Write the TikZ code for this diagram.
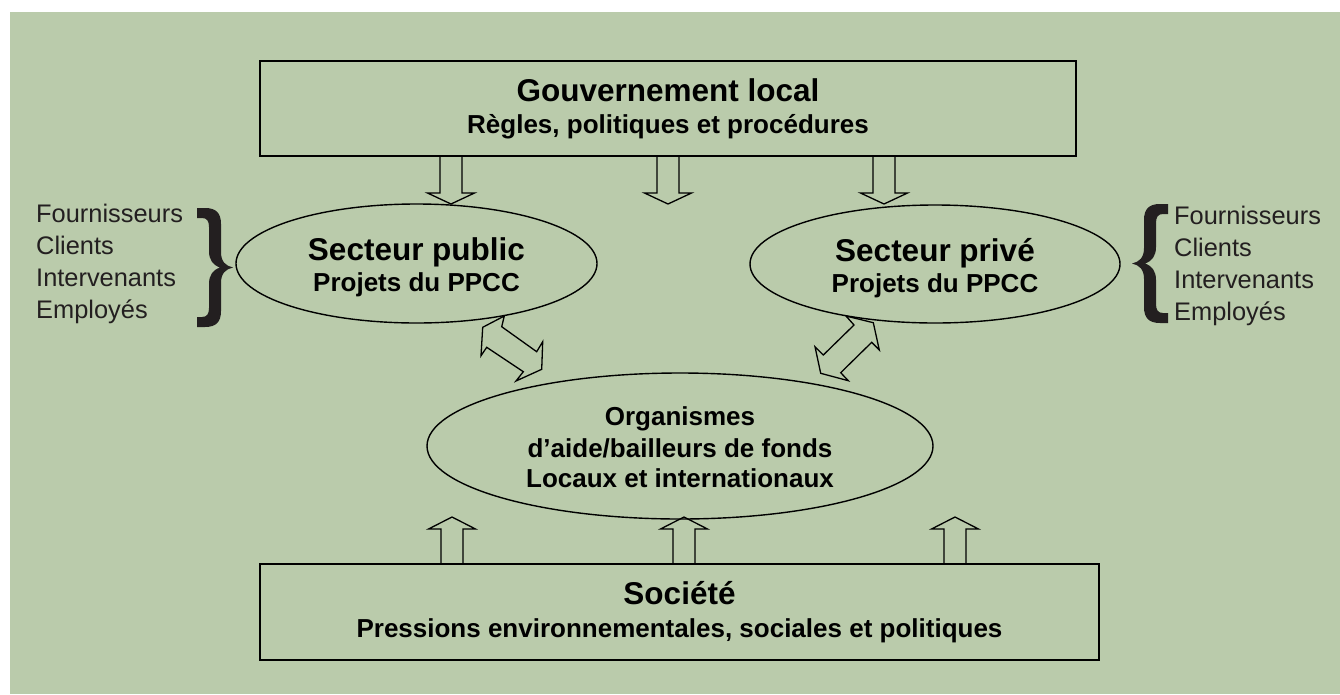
\documentclass[tikz,border=0pt]{standalone}
\usepackage{fontspec}
\setmainfont{Liberation Sans}
\usetikzlibrary{shapes.geometric}
\definecolor{sage}{RGB}{186,203,171}
\definecolor{inkgray}{RGB}{35,31,32}

\begin{document}
\begin{tikzpicture}[x=1pt,y=-1pt,
  box/.style={draw, line width=1.6pt, rectangle, inner sep=0pt, outer sep=0pt},
  oval/.style={draw, line width=1.4pt, ellipse, inner sep=0pt, outer sep=0pt},
  titletext/.style={font=\fontsize{31.5}{36}\selectfont\bfseries, inner sep=0pt, anchor=base},
  subtext/.style={font=\fontsize{26}{30}\selectfont\bfseries, inner sep=0pt, anchor=base},
  sidetext/.style={font=\fontsize{25.4}{30}\selectfont, text=inkgray, inner sep=0pt, anchor=base west},
  blockarr/.style={draw, line width=1.3pt, line join=miter},
  curly/.pic={
    \fill[inkgray] (0,0) -- (8,0) .. controls (19,0) and (24,5) .. (24,16) -- (24,44)
      .. controls (24,54) and (29,58) .. (36,59.5)
      .. controls (29,61) and (24,65) .. (24,75) -- (24,103)
      .. controls (24,114) and (19,119) .. (8,119) -- (0,119) -- (0,109) -- (5,109)
      .. controls (10,109) and (12,106) .. (12,100) -- (12,76)
      .. controls (12,67) and (16,62) .. (23,59.5)
      .. controls (16,57) and (12,52) .. (12,43) -- (12,19)
      .. controls (12,13) and (10,10) .. (5,10) -- (0,10) -- cycle;
  },
  downarr/.pic={
    \draw[blockarr] (-11,0) -- (11,0) -- (11,37) -- (23.5,37) -- (0,48)
      -- (-23.5,37) -- (-11,37) -- cycle;
  },
  uparr/.pic={
    \draw[blockarr] (-11,0) -- (11,0) -- (11,-35) -- (23.5,-35) -- (0,-47)
      -- (-23.5,-35) -- (-11,-35) -- cycle;
  }]

\useasboundingbox (0,0) rectangle (1340,694);
\fill[sage] (10,12) rectangle (1340,694);

% boxes and ellipses
\node[box, minimum width=816pt, minimum height=95pt] (gov) at (668,108.5) {};
\node[box, minimum width=839pt, minimum height=96pt] (soc) at (679.5,612) {};
\node[oval, minimum width=361pt, minimum height=119pt] (pub) at (416.5,263.5) {};
\node[oval, minimum width=370pt, minimum height=118pt] (priv) at (935,264) {};
\node[oval, minimum width=506pt, minimum height=146pt] (aid) at (680,446) {};

% texts
\node[titletext] (govT) at (668,101) {Gouvernement local};
\node[subtext] (govS) at (668,133) {Règles, politiques et procédures};
\node[titletext] (socT) at (679.5,604) {Société};
\node[subtext] (socS) at (679.5,637) {Pressions environnementales, sociales et politiques};
\node[titletext] (pubT) at (416.5,260) {Secteur public};
\node[subtext] (pubS) at (416.5,291) {Projets du PPCC};
\node[titletext] (privT) at (935,261) {Secteur privé};
\node[subtext] (privS) at (935,292) {Projets du PPCC};
\node[subtext] (aidA) at (680,425) {Organismes};
\node[subtext] (aidB) at (680,457) {d’aide/bailleurs de fonds};
\node[subtext] (aidC) at (680,487) {Locaux et internationaux};

% stakeholder lists
\node[sidetext] (l1) at (36,222) {Fournisseurs};
\node[sidetext] (l2) at (36,254) {Clients};
\node[sidetext] (l3) at (36,286) {Intervenants};
\node[sidetext] (l4) at (36,318) {Employés};
\node[sidetext] (r1) at (1174,224) {Fournisseurs};
\node[sidetext] (r2) at (1174,256) {Clients};
\node[sidetext] (r3) at (1174,288) {Intervenants};
\node[sidetext] (r4) at (1174,320) {Employés};

% braces
\pic at (197,208) {curly};
\pic[xscale=-1] at (1168,204) {curly};

% block arrows from the government box
\pic at (451,0 |- gov.south) {downarr};
\pic at (668,0 |- gov.south) {downarr};
\pic at (884,0 |- gov.south) {downarr};

% block arrows from society
\pic at (452,0 |- soc.north) {uparr};
\pic at (684,0 |- soc.north) {uparr};
\pic at (955,0 |- soc.north) {uparr};

% two-way arrows between the sectors and the donors
\draw[blockarr] (482.7,327.3) -- (481.0,355.7) -- (486.7,347.3) -- (523.3,371.7)
  -- (516.0,381.0) -- (541.7,369.3) -- (542.7,341.7) -- (536.7,351.7)
  -- (501.7,326.7) -- (504.3,316.0) -- cycle;
\draw[blockarr] (873.3,322.7) -- (846.0,316.0) -- (854.0,325.0) -- (823.3,355.0)
  -- (815.0,346.7) -- (820.7,373.3) -- (848.3,380.7) -- (840.7,372.7)
  -- (871.7,342.3) -- (879.3,350.0) -- cycle;
\end{tikzpicture}
\end{document}
